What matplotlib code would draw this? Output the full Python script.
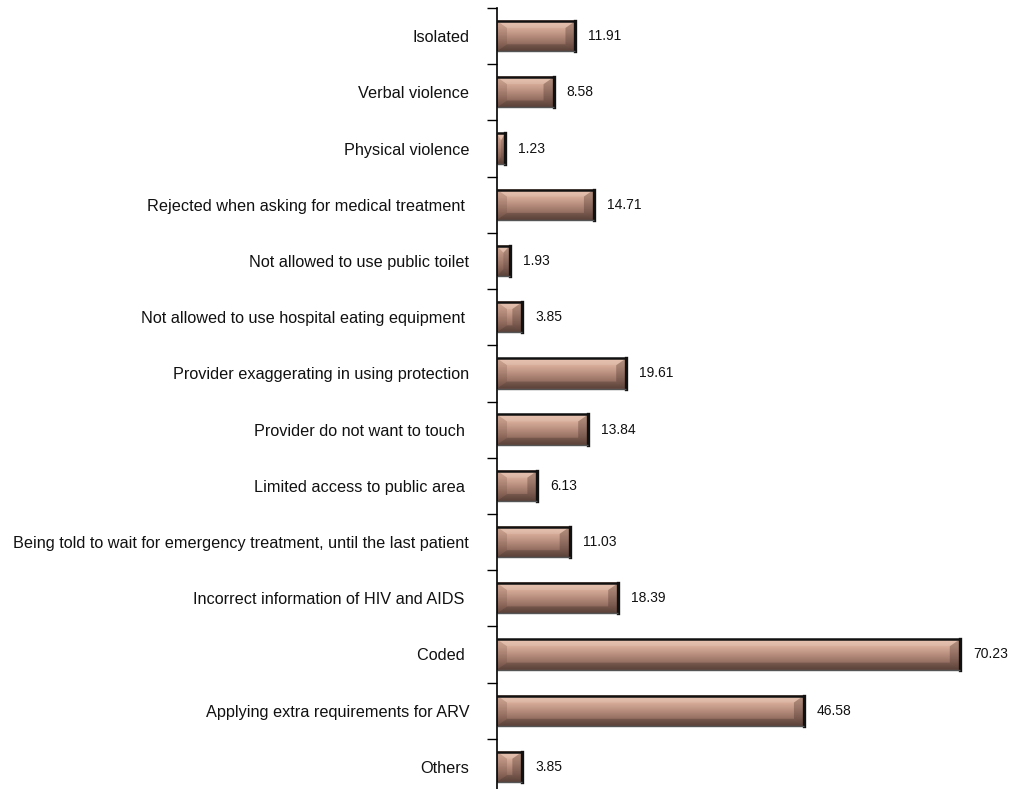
import numpy as np
import matplotlib
matplotlib.use("Agg")
import matplotlib.pyplot as plt
from matplotlib.patches import Polygon
from matplotlib.colors import LinearSegmentedColormap

categories = [
    "Isolated",
    "Verbal violence",
    "Physical violence",
    "Rejected when asking for medical treatment ",
    "Not allowed to use public toilet",
    "Not allowed to use hospital eating equipment ",
    "Provider exaggerating in using protection",
    "Provider do not want to touch ",
    "Limited access to public area ",
    "Being told to wait for emergency treatment, until the last patient",
    "Incorrect information of HIV and AIDS ",
    "Coded ",
    "Applying extra requirements for ARV",
    "Others",
]
values = [11.91, 8.58, 1.23, 14.71, 1.93, 3.85, 19.61, 13.84, 6.13, 11.03,
          18.39, 70.23, 46.58, 3.85]

# vertical shading of the bar body, light on top, dark at the bottom
face_cmap = LinearSegmentedColormap.from_list(
    "face", ["#e8bea9", "#d6ab97", "#b88e7e", "#967062", "#6e5046"])

fig = plt.figure(figsize=(10.13, 7.89), dpi=100)
ax = fig.add_axes([497 / 1013, -6 / 789, 514 / 1013, 787 / 789])

y = np.arange(len(categories))
bar_h = 0.54
ax.set_xlim(0, 78)
ax.set_ylim(len(categories) - 0.5, -0.5)

# pixel -> data conversion for the bevel size
p0 = ax.transData.transform((0, 0))
p1 = ax.transData.transform((1, 1))
px_x = abs(p1[0] - p0[0])
px_y = abs(p1[1] - p0[1])
bev_x, bev_y = 10, 7

bars = ax.barh(y, values, height=bar_h, color="none", edgecolor="none")

for rect in bars:
    x0, y0 = rect.get_x(), rect.get_y()
    w, h = rect.get_width(), rect.get_height()
    x1, y1 = x0 + w, y0 + h
    bx = min(bev_x / px_x, w / 2)
    by = min(bev_y / px_y, h / 2)

    grad = np.linspace(0, 1, 64).reshape(-1, 1)
    ax.imshow(grad, cmap=face_cmap, aspect="auto", zorder=3,
              extent=(x0, x1, y1, y0), interpolation="bilinear")

    # bevelled ends and edges as light/dark overlays
    sides = [
        ([(x0, y0), (x1, y0), (x1 - bx, y0 + by), (x0 + bx, y0 + by)], "white", 0.12),
        ([(x0, y1), (x1, y1), (x1 - bx, y1 - by), (x0 + bx, y1 - by)], "black", 0.18),
        ([(x0, y0), (x0 + bx, y0 + by), (x0 + bx, y1 - by), (x0, y1)], "#5a3a30", 0.18),
        ([(x1, y0), (x1 - bx, y0 + by), (x1 - bx, y1 - by), (x1, y1)], "#3a2520", 0.30),
    ]
    for pts, col, a in sides:
        ax.add_patch(Polygon(pts, closed=True, facecolor=col, alpha=a,
                             edgecolor="none", zorder=3.5))

    # dark frame: heavy on top and right, thin on the bottom
    ax.plot([x0, x1], [y0, y0], color="#111111", lw=1.8, zorder=4,
            solid_capstyle="butt")
    ax.plot([x1, x1], [y0, y1], color="#111111", lw=2.4, zorder=4,
            solid_capstyle="projecting")
    ax.plot([x0, x1], [y1, y1], color="#555555", lw=1.0, zorder=4,
            solid_capstyle="butt")

ax.set_xlim(0, 78)
ax.set_ylim(len(categories) - 0.5, -0.5)

# value labels
for yi, v in zip(y, values):
    ax.text(v + 13 / px_x, yi, f"{v:.2f}", va="center", ha="left",
            fontsize=10, family=["Liberation Sans", "DejaVu Sans"],
            color="#111111")

ax.set_yticks(y)
ax.set_yticklabels(categories, fontsize=11.7, color="#111111",
                   family=["Liberation Sans", "DejaVu Sans"])
ax.set_yticks(np.arange(-0.5, len(categories) + 0.5, 1), minor=True)
ax.tick_params(axis="y", which="major", length=0, pad=20)
ax.tick_params(axis="y", which="minor", length=7, width=1.0, direction="out")
ax.set_xticks([])

for s in ["top", "right", "bottom"]:
    ax.spines[s].set_visible(False)
ax.spines["left"].set_linewidth(1.2)
ax.spines["left"].set_zorder(5)

fig.savefig("out.png", dpi=100)
